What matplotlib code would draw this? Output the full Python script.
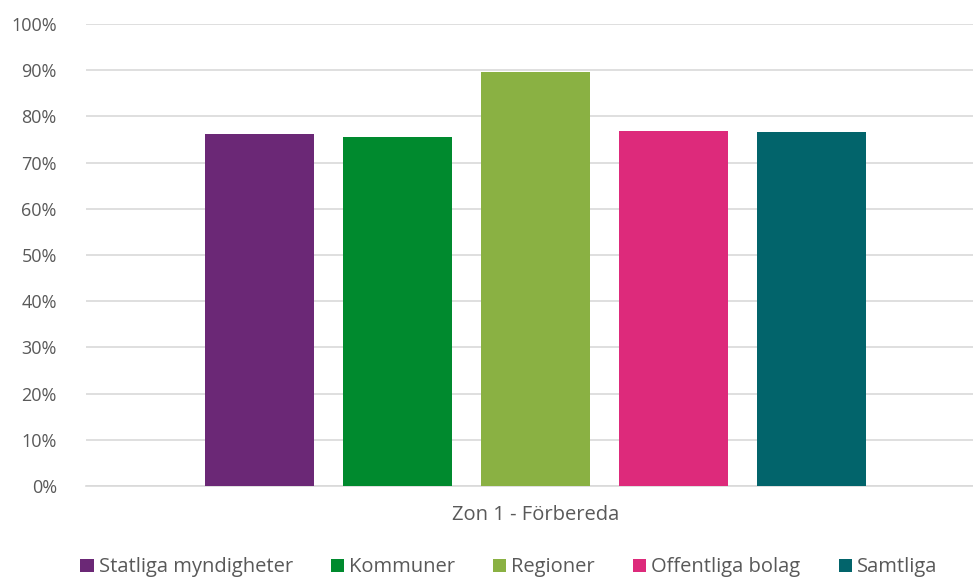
import matplotlib.pyplot as plt
from matplotlib.ticker import PercentFormatter

category = "Zon 1 - Förbereda"
series = ["Statliga myndigheter", "Kommuner", "Regioner", "Offentliga bolag", "Samtliga"]
values = [76.2, 75.5, 89.6, 76.8, 76.6]
colors = ["#6B2876", "#008A2E", "#8AB143", "#DD2A7B", "#02646B"]

plt.rcParams['font.family'] = ['Open Sans', 'DejaVu Sans']

fig = plt.figure(figsize=(9.73, 5.81), dpi=100)
ax = fig.add_axes([86/973, 1-486/581, (984-86)/973, (486-24)/581])

for i, (name, v, c) in enumerate(zip(series, values, colors)):
    ax.bar(i, v, width=0.79, color=c, label=name, zorder=3)

ax.set_ylim(0, 100)
ax.set_xlim(-1.257, 5.25)
ax.set_yticks(range(0, 101, 10))
ax.yaxis.set_major_formatter(PercentFormatter(decimals=0))
ax.grid(axis='y', color='#D9D9D9', linewidth=1.2, zorder=0)
ax.tick_params(axis='y', length=0, labelsize=13, labelcolor='#595959', pad=21)
ax.set_xticks([2])
ax.set_xticklabels([category])
ax.tick_params(axis='x', length=0, labelsize=14.5, labelcolor='#595959', pad=14)
for s in ['top', 'right', 'left']:
    ax.spines[s].set_visible(False)
ax.spines['bottom'].set_color('#D9D9D9')
ax.spines['bottom'].set_linewidth(1.2)

leg = fig.legend(loc='lower center', bbox_to_anchor=(0.523, -0.025), ncol=5, frameon=False,
                 fontsize=14.5, handlelength=0.65, handleheight=0.65, handletextpad=0.25,
                 columnspacing=1.9)
for t in leg.get_texts():
    t.set_color('#595959')

fig.savefig('out.png', dpi=100)
